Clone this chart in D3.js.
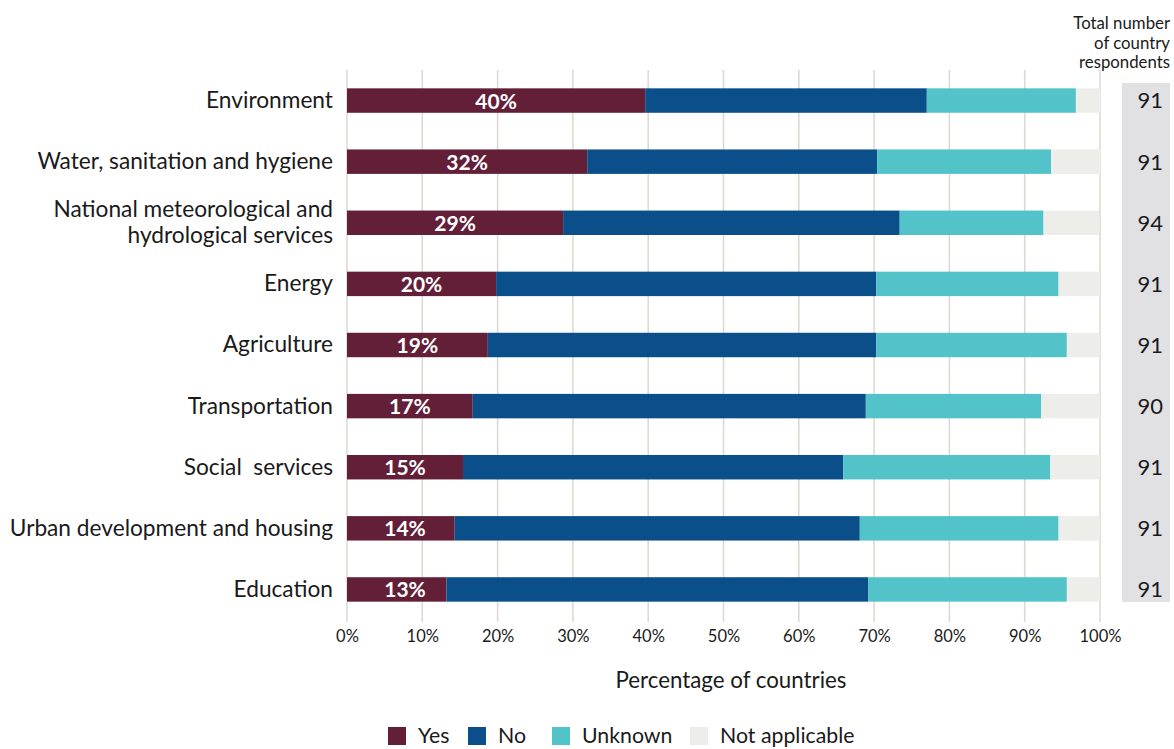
<!DOCTYPE html>
<html><head><meta charset="utf-8">
<script src="https://cdn.jsdelivr.net/npm/d3@7"></script>
<style>body{margin:0;background:#fff}svg{display:block}text{font-family:Lato,"Open Sans",sans-serif;white-space:pre}</style>
</head><body><svg id="c" width="1174" height="749"></svg>
<script>
const categories = ["Environment","Water, sanitation and hygiene","National meteorological and\nhydrological services","Energy","Agriculture","Transportation","Social  services","Urban development and housing","Education"];
const yesVals = [39.6,31.9,28.7,19.8,18.7,16.7,15.4,14.3,13.2];
const noVals = [37.4,38.5,44.7,50.5,51.6,52.2,50.5,53.8,56.0];
const unknownVals = [19.8,23.1,19.1,24.2,25.3,23.3,27.5,26.4,26.4];
const naVals = [3.3,6.6,7.4,5.5,4.4,7.8,6.6,5.5,4.4];
const yesLabels = ["40%","32%","29%","20%","19%","17%","15%","14%","13%"];
const totals = [91,91,94,91,91,90,91,91,91];
const seriesNames = ["Yes","No","Unknown","Not applicable"];
const xTicks = [0,10,20,30,40,50,60,70,80,90,100];
const colors = ["#631f38","#0b4f8a","#52c4c9","#ededea"];

const svg = d3.select("#c");
const x = d3.scaleLinear().domain([0,100]).range([347,1100]);
const y = d3.scaleBand().domain(d3.range(categories.length)).range([70,620]).paddingInner(0.6).paddingOuter(0.3);
const color = d3.scaleOrdinal().domain(seriesNames).range(colors);

// gridlines
svg.append("g").selectAll("line").data(xTicks).join("line")
  .attr("x1",d=>x(d)).attr("x2",d=>x(d)).attr("y1",70).attr("y2",622)
  .attr("stroke","#dcd7d0").attr("stroke-width",1.5);

// right grey column
svg.append("rect").attr("x",1122).attr("y",83).attr("width",48).attr("height",519).attr("fill","#e1e1e3");

const table = categories.map((c,i)=>({i, Yes:yesVals[i], No:noVals[i], Unknown:unknownVals[i], "Not applicable":naVals[i]}));
const stack = d3.stack().keys(seriesNames)(table);
svg.append("g").selectAll("g").data(stack).join("g").attr("fill",d=>color(d.key))
  .selectAll("rect").data(d=>d).join("rect")
  .attr("x",d=>x(d[0])).attr("width",d=>x(d[1])-x(d[0]))
  .attr("y",d=>y(d.data.i)).attr("height",y.bandwidth());

// yes labels
svg.append("g").selectAll("text").data(yesVals).join("text")
  .attr("x",(d,i)=>Math.max((x(0)+x(d))/2, 405))
  .attr("y",(d,i)=>y(i)+y.bandwidth()/2).attr("dy","0.38em")
  .attr("text-anchor","middle").attr("fill","#fff").attr("font-weight","bold").attr("font-size",21)
  .text((d,i)=>yesLabels[i]);

// category labels
const cl = svg.append("g").selectAll("text").data(categories).join("text")
  .attr("text-anchor","end").attr("font-size",22.7).attr("fill","#1a1a1a");
cl.each(function(d,i){
  const lines = d.split("\n");
  const cy = y(i)+y.bandwidth()/2;
  const t = d3.select(this);
  lines.forEach((ln,k)=>{
    t.append("tspan").attr("x",333).attr("y",cy + (k-(lines.length-1)/2)*26).attr("dy","0.33em").text(ln);
  });
});

// totals
svg.append("g").selectAll("text").data(totals).join("text")
  .attr("x",1163).attr("y",(d,i)=>y(i)+y.bandwidth()/2).attr("dy","0.36em")
  .attr("text-anchor","end").attr("font-size",22).attr("fill","#1a1a1a").text(d=>d);

// header
const hdr = svg.append("text").attr("text-anchor","end").attr("font-size",16.8).attr("fill","#1a1a1a");
["Total number","of country","respondents"].forEach((t,k)=>hdr.append("tspan").attr("x",1170).attr("y",29+k*19.5).text(t));

// x axis
const ax = svg.append("g").attr("transform","translate(0,622)")
  .call(d3.axisBottom(x).tickValues(xTicks).tickFormat(d=>d+"%").tickSize(0).tickPadding(8));
ax.select(".domain").remove();
ax.selectAll("text").attr("font-size",16.5).attr("fill","#1a1a1a").attr("font-family","Lato, 'Open Sans', sans-serif");

svg.append("text").attr("x",731).attr("y",688).attr("text-anchor","middle").attr("font-size",22.3).attr("fill","#1a1a1a").text("Percentage of countries");

// legend
const legX = [388,468,552,690];
const lg = svg.append("g").selectAll("g").data(seriesNames).join("g").attr("transform",(d,i)=>`translate(${legX[i]},727)`);
lg.append("rect").attr("width",18).attr("height",18).attr("fill",d=>color(d));
lg.append("text").attr("x",30).attr("y",9).attr("dy","0.34em").attr("font-size",21.3).attr("fill","#1a1a1a").text(d=>d);
</script></body></html>
